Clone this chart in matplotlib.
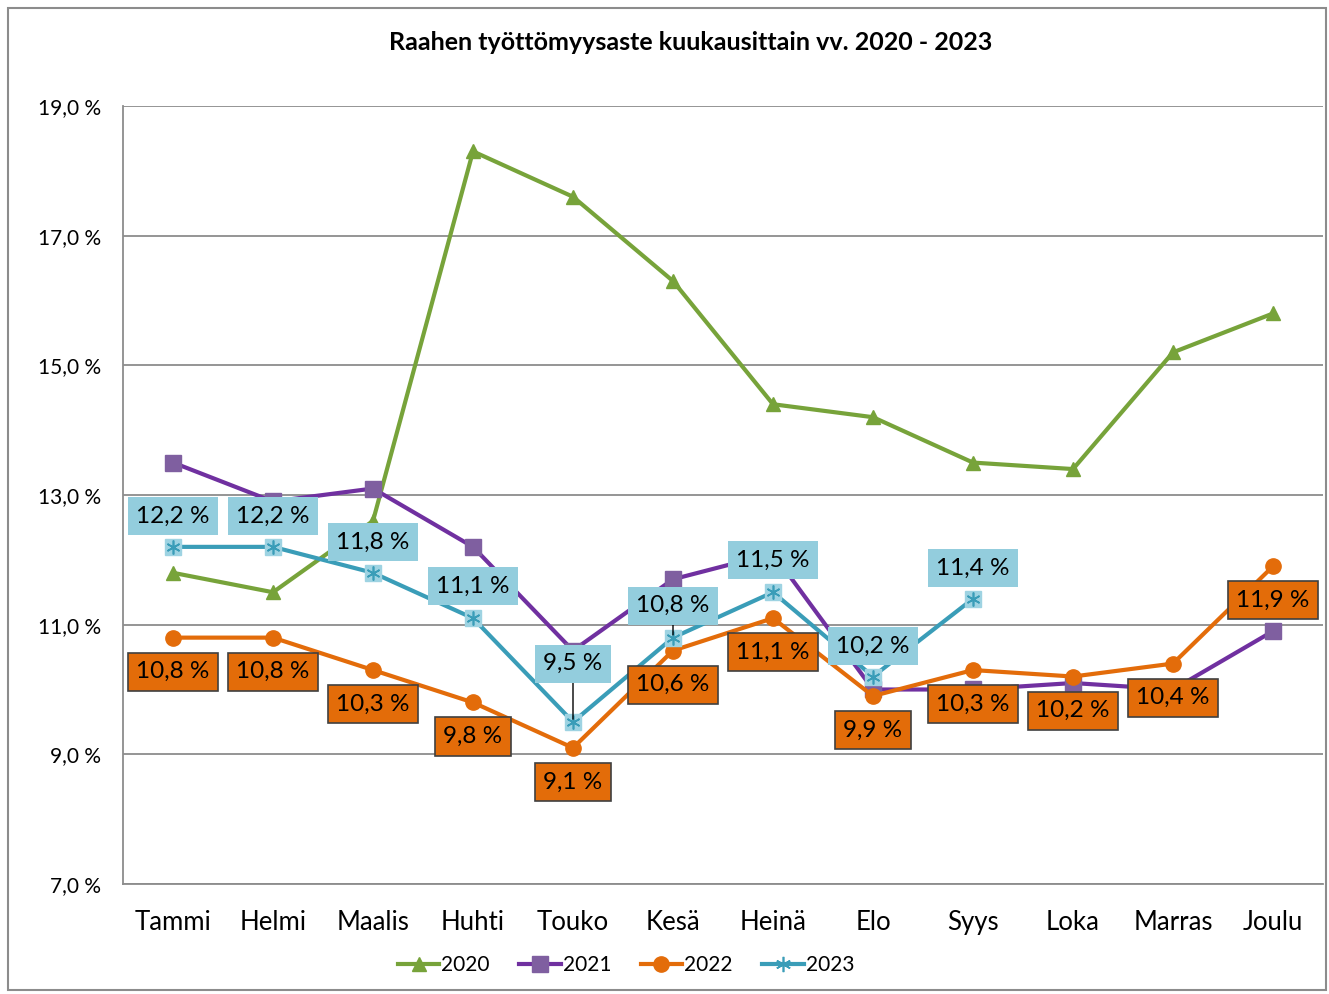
import matplotlib
matplotlib.use('Agg')
import matplotlib.pyplot as plt
from matplotlib.patches import Rectangle

plt.rcParams['font.family'] = ['Lato', 'DejaVu Sans']

months = ['Tammi', 'Helmi', 'Maalis', 'Huhti', 'Touko', 'Kesä',
          'Heinä', 'Elo', 'Syys', 'Loka', 'Marras', 'Joulu']
y2020 = [11.8, 11.5, 12.6, 18.3, 17.6, 16.3, 14.4, 14.2, 13.5, 13.4, 15.2, 15.8]
y2021 = [13.5, 12.9, 13.1, 12.2, 10.6, 11.7, 12.1, 10.0, 10.0, 10.1, 10.0, 10.9]
y2022 = [10.8, 10.8, 10.3, 9.8, 9.1, 10.6, 11.1, 9.9, 10.3, 10.2, 10.4, 11.9]
y2023 = [12.2, 12.2, 11.8, 11.1, 9.5, 10.8, 11.5, 10.2, 11.4]
yticks = [7, 9, 11, 13, 15, 17, 19]

W, H = 1329, 994
fig = plt.figure(figsize=(W / 100, H / 100), dpi=100)
ax = fig.add_axes([123 / W, (H - 884) / H, 1200 / W, 778 / H])

x = list(range(len(months)))
ax.plot(x, y2020, color='#77A33A', lw=3, marker='^', ms=10, label='2020', zorder=3)
ax.plot(x, y2021, color='#7030A0', lw=3, marker='s', ms=11, mfc='#7F5FA0', mec='#7F5FA0',
        label='2021', zorder=3)
ax.plot(x, y2022, color='#E36C0A', lw=3, marker='o', ms=11, label='2022', zorder=3)
x23 = x[:len(y2023)]
ax.plot(x23, y2023, color='#3A9DB8', lw=3, marker='s', ms=11, mfc='#9ED3E2', mec='#9ED3E2',
        zorder=3)
ax.plot(x23, y2023, ls='none', marker=(6, 2, 0), ms=10, mec='#3A9DB8', mew=1.2, zorder=4)
# legend proxy
ax.plot([], [], color='#3A9DB8', lw=3, marker=(6, 2, 0), ms=11, mec='#3A9DB8',
        mew=1.2, label='2023')

# data labels 2023 (above)
off23 = [22, 22, 22, 23, 42, 23, 23, 22, 22]
for i, v in enumerate(y2023):
    lead = i in (4, 5)
    ax.annotate(f'{v:.1f} %'.replace('.', ','), (i, v), xytext=(0, off23[i]),
                textcoords='offset points', ha='center', va='center', fontsize=17.5,
                bbox=dict(boxstyle='square,pad=0.35', fc='#93CDDD', ec='none'),
                arrowprops=dict(arrowstyle='-', color='black', lw=1,
                                shrinkA=0, shrinkB=2) if lead else None,
                zorder=5)

# data labels 2022 (below)
for i, v in enumerate(y2022):
    ax.annotate(f'{v:.1f} %'.replace('.', ','), (i, v), xytext=(0, -24.5),
                textcoords='offset points', ha='center', va='center', fontsize=17.5,
                bbox=dict(boxstyle='square,pad=0.35', fc='#E36C09', ec='#404040', lw=1.2),
                zorder=5)

ax.set_xlim(-0.5, 11.5)
ax.set_ylim(7, 19)
ax.set_xticks(x)
ax.set_xticklabels(months, fontsize=18.5)
ax.set_yticks(yticks)
ax.set_yticklabels([f'{t:.1f} %'.replace('.', ',') for t in yticks], fontsize=15)
ax.tick_params(length=0)
ax.tick_params(axis='x', pad=19)
ax.tick_params(axis='y', pad=16)
ax.grid(axis='y', color='#8C8C8C', lw=1.3)
ax.set_axisbelow(True)
for s in ['top', 'right']:
    ax.spines[s].set_visible(False)
ax.spines['left'].set_color('#8C8C8C')
ax.spines['bottom'].set_color('#8C8C8C')
ax.spines['left'].set_linewidth(1.3)
ax.spines['bottom'].set_linewidth(1.3)

fig.text(691 / W, 1 - 42 / H, 'Raahen työttömyysaste kuukausittain vv. 2020 - 2023',
         ha='center', va='center', fontsize=18, fontweight='bold')

fig.legend(loc='center', bbox_to_anchor=(626 / W, 1 - 965 / H), ncol=4, frameon=False,
           fontsize=15, handlelength=2.0, handletextpad=0.1, columnspacing=1.4)

fig.patches.append(Rectangle((8 / W, 4 / H), 1318 / W, 982 / H, transform=fig.transFigure,
                             fill=False, ec='#8C8C8C', lw=1.5))

fig.savefig('out.png', dpi=100)
